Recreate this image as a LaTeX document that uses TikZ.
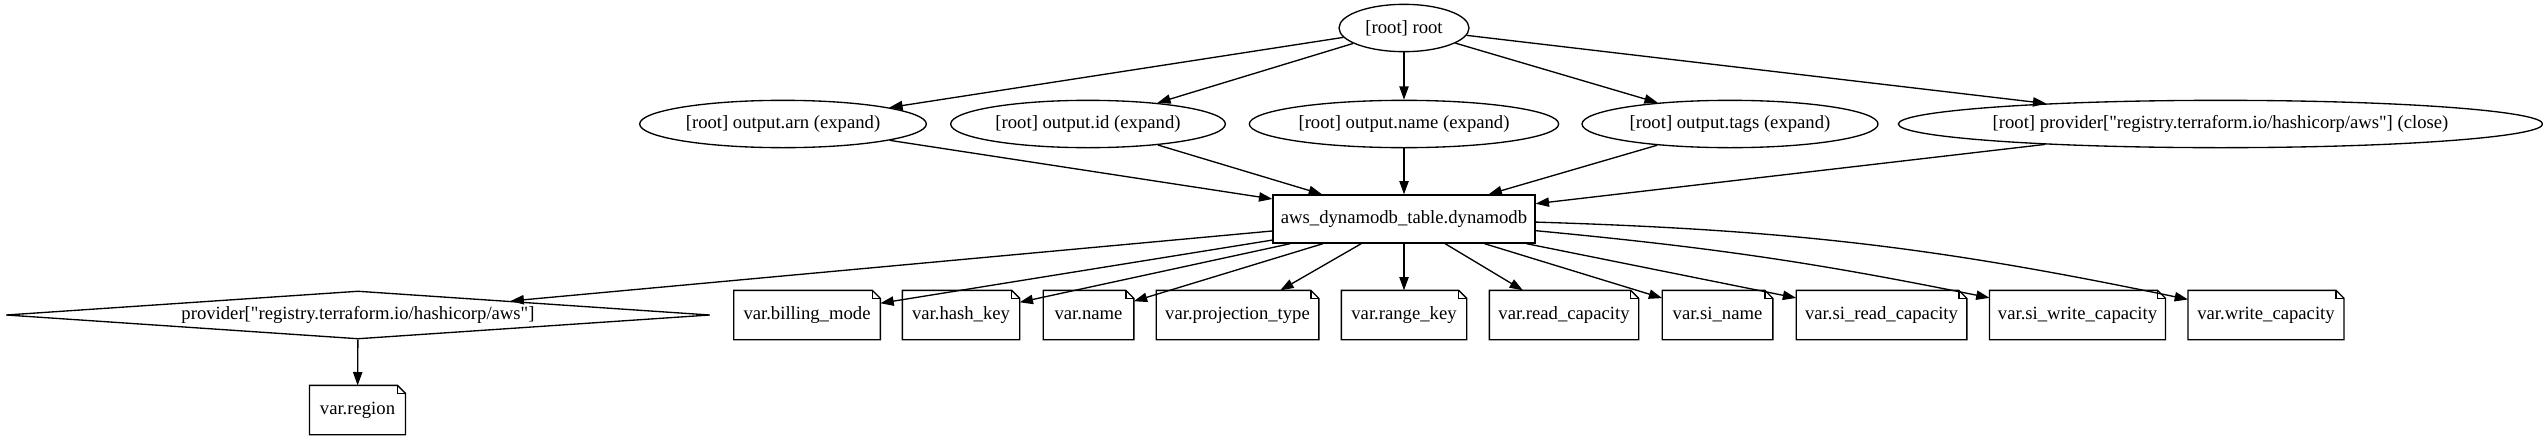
\documentclass[tikz,border=0pt]{standalone}
\usepackage{fontspec}
\setmainfont{Liberation Serif}[Ligatures=TeXOff]
\usetikzlibrary{arrows.meta, shapes.geometric}

\begin{document}
\begin{tikzpicture}[
  x=0.75pt, y=-0.75pt,
  font=\fontsize{14}{16}\selectfont,
  every node/.style={font=\fontsize{14}{16}\selectfont, inner sep=0pt, line width=1pt},
  oval/.style={ellipse, draw, minimum height=35.5pt},
  res/.style={rectangle, draw, minimum height=36pt},
  prov/.style={diamond, draw, aspect=14, minimum height=36pt},
  note/.style={rectangle, minimum height=36pt},
  fold/.style={line width=1pt},
  arrow/.style={-{Triangle[length=10pt,width=7pt]}, line width=1pt}
]
\useasboundingbox (0,0) rectangle (2543,443);

% Top: root
\node[oval, minimum width=97.5pt] (root) at (1404, 28) {[root] root};

% Outputs and provider close
\node[oval, minimum width=215pt] (oarn)  at (783, 124)  {[root] output.arn (expand)};
\node[oval, minimum width=206pt] (oid)   at (1088, 124) {[root] output.id (expand)};
\node[oval, minimum width=232pt] (oname) at (1404, 124) {[root] output.name (expand)};
\node[oval, minimum width=222pt] (otags) at (1730, 124) {[root] output.tags (expand)};
\node[oval, minimum width=476pt] (pclose) at (2220.5, 124)
  {[root] provider["registry.terraform.io/hashicorp/aws"] (close)};

% Middle: the table
\node[res, minimum width=196.5pt] (table) at (1404, 219) {aws\_dynamodb\_table.dynamodb};

% Bottom: provider and variables
\node[prov, minimum width=528pt] (prov) at (358, 315)
  {provider["registry.terraform.io/hashicorp/aws"]};
\node[note, minimum width=109pt] (vbill)    at (807, 315)  {var.billing\_mode};
\node[note, minimum width=87pt]  (vhash)    at (961, 315)  {var.hash\_key};
\node[note, minimum width=67pt]  (vname)    at (1088.5, 315) {var.name};
\node[note, minimum width=121pt] (vproj)    at (1237.5, 315) {var.projection\_type};
\node[note, minimum width=93pt]  (vrange)   at (1404, 315) {var.range\_key};
\node[note, minimum width=111pt] (vread)    at (1564, 315) {var.read\_capacity};
\node[note, minimum width=82pt]  (vsiname)  at (1717.5, 315) {var.si\_name};
\node[note, minimum width=127pt] (vsiread)  at (1881.5, 315) {var.si\_read\_capacity};
\node[note, minimum width=131pt] (vsiwrite) at (2077.5, 315) {var.si\_write\_capacity};
\node[note, minimum width=116pt] (vwrite)   at (2266, 315) {var.write\_capacity};

% Below the provider
\node[note, minimum width=71pt] (vregion) at (357.5, 410) {var.region};

% Note outlines with folded corner
\foreach \n in {vbill, vhash, vname, vproj, vrange, vread, vsiname, vsiread, vsiwrite, vwrite, vregion} {
  \draw[fold] (\n.south west) |- ([xshift=-6pt]\n.north east) -- ([yshift=-6pt]\n.north east) |- (\n.south west) -- cycle;
  \draw[fold] ([xshift=-6pt]\n.north east) |- ([yshift=-6pt]\n.north east);
}

% Arrows: root -> second row
\foreach \n in {oarn, oid, oname, otags, pclose}
  \draw[arrow] (root) -- (\n);

% Arrows: second row -> table
\foreach \n in {oarn, oid, oname, otags, pclose}
  \draw[arrow] (\n) -- (table);

% Arrows: table -> bottom row
\foreach \n in {prov, vbill, vhash, vname, vproj, vrange, vread, vsiname, vsiread}
  \draw[arrow] (table) -- (\n);
\draw[arrow] (table) to[bend left=3] (vsiwrite);
\draw[arrow] (table) to[bend left=5] (vwrite);

% Arrow: provider -> region
\draw[arrow] (prov) -- (vregion);

\end{tikzpicture}
\end{document}
